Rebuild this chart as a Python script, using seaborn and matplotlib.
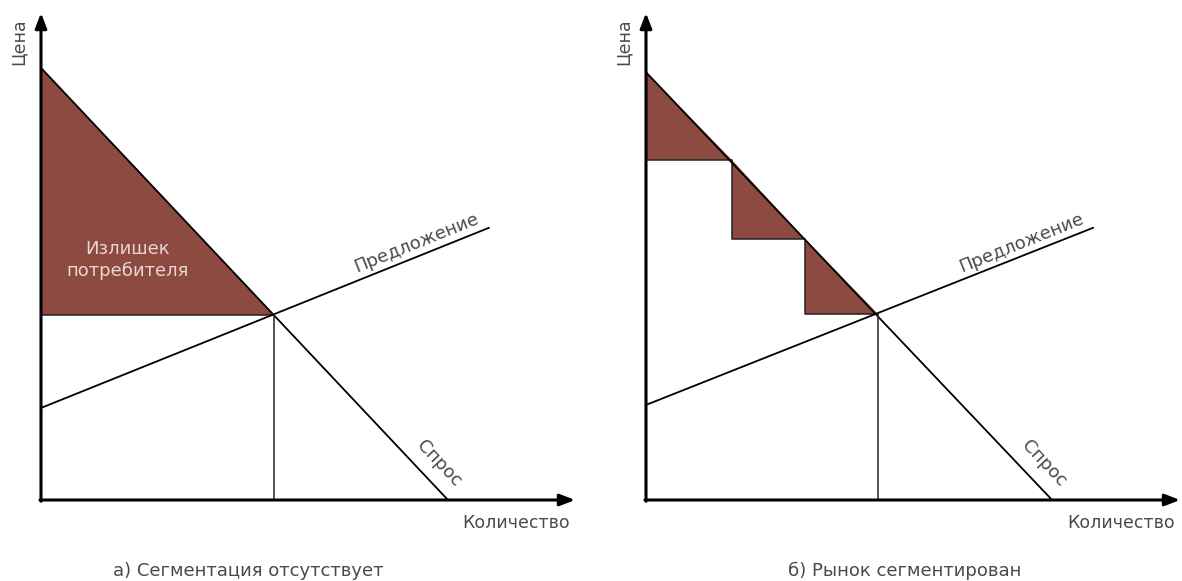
import matplotlib
matplotlib.use("Agg")
import matplotlib.pyplot as plt
import seaborn as sns
import pandas as pd

# ---------------- Data (price / quantity units) ----------------
demand_q_a = [0.0, 9.42]
demand_p_a = [10.0, 0.0]
demand_q_b = [0.0, 9.40]
demand_p_b = [9.9, 0.0]

supply_q_a = [0.0, 10.37]
supply_p_a = [2.13, 6.30]
supply_q_b = [0.0, 10.35]
supply_p_b = [2.20, 6.30]

eq_q_a, eq_p_a = 5.39, 4.28
eq_q_b, eq_p_b = 5.37, 4.30

# segmented market: price steps
step_q = [0.0, 2.0, 3.68, 5.37]
step_p = [7.87, 6.04, 4.30]

x_max, y_max = 12.36, 11.27

fill_color = "#8c4a40"
text_color = "#4a4a4a"
font = ["DejaVu Sans"]
fs = 13

sns.set_style("white")
plt.rcParams["font.family"] = font

fig = plt.figure(figsize=(11.82, 5.81), dpi=100)
ax_a = fig.add_axes([41 / 1182, 81 / 581, 534 / 1182, 487 / 581])
ax_b = fig.add_axes([646 / 1182, 81 / 581, 534 / 1182, 487 / 581])


def draw_axes(ax):
    ax.set_xlim(0, x_max)
    ax.set_ylim(0, y_max)
    ax.set_axis_off()
    arrow = dict(arrowstyle="-|>,head_length=0.9,head_width=0.35", color="black",
                 lw=2.2, shrinkA=0, shrinkB=0)
    ax.annotate("", xy=(x_max, 0), xytext=(-0.025, 0), arrowprops=arrow, annotation_clip=False)
    ax.annotate("", xy=(0, y_max), xytext=(0, -0.03), arrowprops=arrow, annotation_clip=False)
    ax.text(-0.52, 10.6, "Цена", rotation=90, ha="center", va="center",
            fontsize=fs - 0.5, color=text_color, clip_on=False)
    ax.text(11.0, -0.53, "Количество", ha="center", va="center",
            fontsize=fs - 0.5, color=text_color, clip_on=False)


def draw_curves(ax, dq, dp, sq, sp, eq_q, eq_p):
    df_d = pd.DataFrame({"q": dq, "p": dp})
    df_s = pd.DataFrame({"q": sq, "p": sp})
    sns.lineplot(data=df_d, x="q", y="p", ax=ax, color="black", lw=1.3, sort=False)
    sns.lineplot(data=df_s, x="q", y="p", ax=ax, color="black", lw=1.3, sort=False)
    ax.plot([eq_q, eq_q], [0, eq_p], color="#222222", lw=1.1)
    ax.text(8.7, 5.95, "Предложение", rotation=21.9, ha="center", va="center",
            rotation_mode="anchor", fontsize=fs, color=text_color)
    ax.text(9.2, 0.84, "Спрос", rotation=-46.7, ha="center", va="center",
            rotation_mode="anchor", fontsize=fs, color=text_color)
    ax.set_xlabel("")
    ax.set_ylabel("")


# ---------------- a) no segmentation ----------------
draw_axes(ax_a)
ax_a.fill([0, 0, eq_q_a], [demand_p_a[0], eq_p_a, eq_p_a], color=fill_color, lw=0)
ax_a.plot([0, eq_q_a], [eq_p_a, eq_p_a], color="#222222", lw=1.1)
draw_curves(ax_a, demand_q_a, demand_p_a, supply_q_a, supply_p_a, eq_q_a, eq_p_a)
ax_a.text(2.0, 5.55, "Излишек\nпотребителя", ha="center", va="center",
          fontsize=fs, color="#ead6d2", linespacing=1.25)

# ---------------- b) segmented market ----------------
draw_axes(ax_b)
tops = [demand_p_b[0]] + step_p[:-1]
for i in range(len(step_p)):
    ax_b.fill([step_q[i], step_q[i], step_q[i + 1]], [tops[i], step_p[i], step_p[i]],
              color=fill_color, lw=0)
stair_q, stair_p = [], []
for i in range(len(step_p)):
    stair_q += [step_q[i], step_q[i + 1]]
    stair_p += [step_p[i], step_p[i]]
ax_b.plot(stair_q, stair_p, color="#222222", lw=1.1)
draw_curves(ax_b, demand_q_b, demand_p_b, supply_q_b, supply_p_b, eq_q_b, eq_p_b)

fig.text(248 / 1182, 1 - 571 / 581, "а) Сегментация отсутствует", ha="center", va="center",
         fontsize=fs, color=text_color)
fig.text(905 / 1182, 1 - 571 / 581, "б) Рынок сегментирован", ha="center", va="center",
         fontsize=fs, color=text_color)

fig.savefig("out.png", dpi=100)
